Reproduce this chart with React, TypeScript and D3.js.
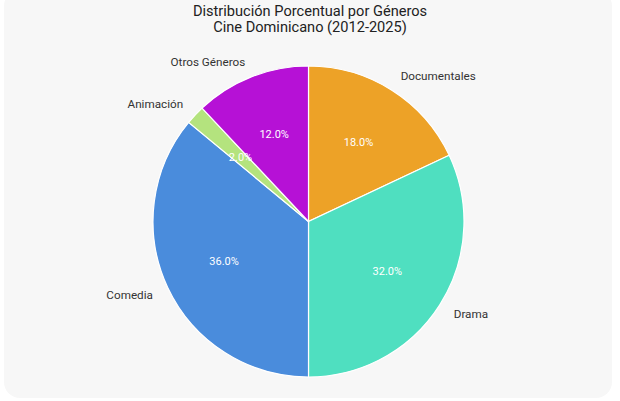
import React from "react";
import * as d3 from "d3";

const categories = ["Documentales", "Drama", "Comedia", "Animación", "Otros Géneros"];
const values = [18, 32, 36, 2, 12];
const colors = ["#EDA227", "#4FDFC0", "#4A8CDC", "#B4E37E", "#B611D6"];
const titleLines = ["Distribución Porcentual por Géneros", "Cine Dominicano (2012-2025)"];

const W = 620;
const H = 401;
const cx = 308.5;
const cy = 221.5;
const R = 155.5;

export default function App() {
  const pie = d3.pie<number>().sort(null).value((d) => d);
  const arcs = pie(values);
  const arc = d3.arc<d3.PieArcDatum<number>>().innerRadius(0).outerRadius(R);
  const inner = d3.arc<d3.PieArcDatum<number>>().innerRadius(R * 0.6).outerRadius(R * 0.6);
  const total = d3.sum(values);
  const fmt = d3.format(".1f");
  const labelR = 172;
  return (
    <svg
      width={W}
      height={H}
      style={{ position: "absolute", left: 0, top: 0, fontFamily: "Roboto, 'Noto Sans', sans-serif" }}
    >
      <rect x={4} y={-10} width={608} height={408} rx={16} ry={16} fill="#f7f7f7" />
      <g fill="#222" fontSize={14.6} textAnchor="middle">
        {titleLines.map((t, i) => (
          <text key={i} x={310} y={15.5 + i * 16.5}>
            {t}
          </text>
        ))}
      </g>
      <g transform={`translate(${cx},${cy})`}>
        {arcs.map((a, i) => (
          <path key={i} d={arc(a) || ""} fill={colors[i]} stroke="#fff" strokeWidth={1.2} />
        ))}
        {arcs.map((a, i) => {
          const [x, y] = inner.centroid(a);
          return (
            <text key={"p" + i} x={x} y={y} fill="#fff" fontSize={11} textAnchor="middle" dominantBaseline="central">
              {fmt((values[i] / total) * 100)}%
            </text>
          );
        })}
        {arcs.map((a, i) => {
          const mid = (a.startAngle + a.endAngle) / 2;
          const x = labelR * Math.sin(mid);
          const y = -labelR * Math.cos(mid);
          return (
            <text
              key={"l" + i}
              x={x}
              y={y}
              fill="#333"
              fontSize={11.7}
              textAnchor={x >= 0 ? "start" : "end"}
              dominantBaseline="central"
            >
              {categories[i]}
            </text>
          );
        })}
      </g>
    </svg>
  );
}
